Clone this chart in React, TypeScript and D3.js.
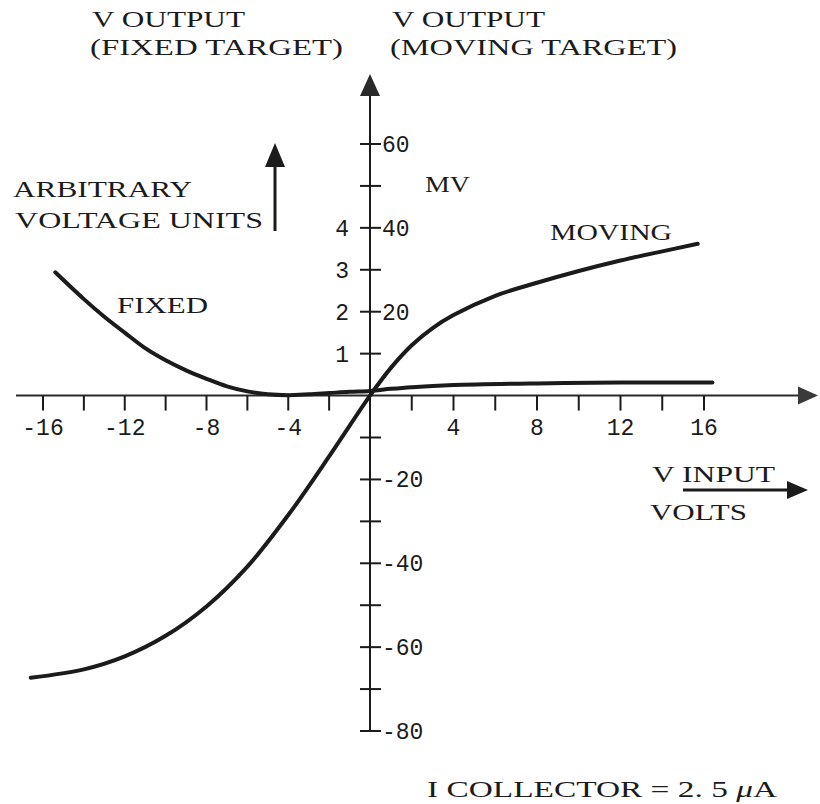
import React from "react";
import * as d3 from "d3";

// Input voltage (V) vs output for the moving target, in millivolts
const movingX = [-16.6, -14, -12, -10, -8, -6, -4, -2, -1, 0, 1, 2, 3, 4, 6, 8, 10, 12, 14, 15.7];
const movingMv = [-67.3, -65.3, -62.2, -57.3, -50.3, -40.8, -28.5, -14.5, -7.2, 0, 6.6, 12.0, 16.1, 19.2, 23.8, 26.9, 29.7, 32.2, 34.4, 36.2];

// Input voltage (V) vs output for the fixed target, in arbitrary voltage units
const fixedX = [-15.4, -14, -13, -12, -11, -10, -9, -8, -7, -6, -5, -4, -3, -2, -1, 0, 1, 2, 4, 8, 12, 16.4];
const fixedUnits = [2.94, 2.3, 1.88, 1.5, 1.13, 0.84, 0.6, 0.4, 0.22, 0.1, 0.03, 0.01, 0.03, 0.06, 0.09, 0.11, 0.16, 0.2, 0.25, 0.29, 0.31, 0.31];

// Axis ticks and labels
const xTicks = [-16, -14, -12, -10, -8, -6, -4, -2, 2, 4, 6, 8, 10, 12, 14, 16];
const xTickLabels = [-16, -12, -8, -4, 4, 8, 12, 16];
const mvTicks = [-80, -70, -60, -50, -40, -30, -20, -10, 10, 20, 30, 40, 50, 60];
const mvTickLabels = [60, 40, 20, -20, -40, -60, -80];
const unitTickLabels = [1, 2, 3, 4];

const INK = "#1b1b1b";
const SERIF = "'Liberation Serif', 'DejaVu Serif', serif";
const MONO = "'Liberation Mono', 'DejaVu Sans Mono', monospace";

export default function App() {
  const x = d3.scaleLinear().domain([-16, 0, 16]).range([43, 370, 704]);
  const y = d3.scaleLinear().domain([-80, 60]).range([731, 144]);
  const yUnits = d3.scaleLinear().domain([0, 4]).range([y(0), y(40)]);

  const x0 = x(0);
  const y0 = y(0);

  const moving = movingX.map((v, i) => [v, movingMv[i]] as [number, number]);
  const fixed = fixedX.map((v, i) => [v, fixedUnits[i]] as [number, number]);

  const movingLine = d3
    .line<[number, number]>()
    .x((d) => x(d[0]))
    .y((d) => y(d[1]))
    .curve(d3.curveCatmullRom.alpha(0.5));
  const fixedLine = d3
    .line<[number, number]>()
    .x((d) => x(d[0]))
    .y((d) => yUnits(d[1]))
    .curve(d3.curveCatmullRom.alpha(0.5));

  const label = (text: string, lx: number, ly: number, len: number, size = 24) => (
    <text
      x={lx}
      y={ly}
      fontFamily={SERIF}
      fontSize={size}
      fill={INK}
      textLength={len}
      lengthAdjust="spacingAndGlyphs"
    >
      {text}
    </text>
  );

  return (
    <svg
      width={820}
      height={804}
      style={{ position: "absolute", left: 0, top: 0, background: "#fff" }}
    >
      {/* headings */}
      {label("V OUTPUT", 92, 27, 153)}
      {label("(FIXED TARGET)", 90, 55, 253)}
      {label("V OUTPUT", 392, 27, 153)}
      {label("(MOVING TARGET)", 390, 55, 287)}
      {label("ARBITRARY", 13, 197, 179)}
      {label("VOLTAGE UNITS", 15, 228, 248)}
      {label("MV", 425, 192, 45)}
      {label("MOVING", 550, 240, 122)}
      {label("FIXED", 117, 313, 91)}
      {label("V INPUT", 652, 482, 123)}
      {label("VOLTS", 650, 520, 97)}
      <text
        x={427}
        y={797}
        fontFamily={SERIF}
        fontSize={24}
        fill={INK}
        textLength={350}
        lengthAdjust="spacingAndGlyphs"
      >
        I COLLECTOR = 2. 5 <tspan fontStyle="italic">μ</tspan>A
      </text>

      {/* arbitrary units arrow */}
      <line x1={275} x2={275} y1={165} y2={231} stroke={INK} strokeWidth={3} />
      <polygon points="275,143 265,167 285,167" fill={INK} />

      {/* V input arrow */}
      <line x1={683} x2={790} y1={490} y2={490} stroke={INK} strokeWidth={3} />
      <polygon points="808,490 787,481 787,499" fill={INK} />

      {/* x axis */}
      <line x1={16} x2={800} y1={y0} y2={y0} stroke="#2a2a2a" strokeWidth={2} />
      <polygon points={`818,${y0} 798,${y0 - 9} 798,${y0 + 9}`} fill="#3a3a3a" />
      {xTicks.map((t) => (
        <line key={t} x1={x(t)} x2={x(t)} y1={y0} y2={y0 + 15} stroke={INK} strokeWidth={2} />
      ))}
      {xTickLabels.map((t) => (
        <text
          key={t}
          x={x(t)}
          y={435}
          textAnchor="middle"
          fontFamily={MONO}
          fontSize={23}
          fill={INK}
        >
          {t < 0 ? `-${Math.abs(t)}` : t}
        </text>
      ))}

      {/* y axis */}
      <line x1={x0} x2={x0} y1={92} y2={y(-80)} stroke={INK} strokeWidth={2} />
      <polygon points={`${x0},74 ${x0 - 10},96 ${x0 + 10},96`} fill="#2a2a2a" />
      {mvTicks.map((t) => (
        <line key={t} x1={x0 - 10} x2={x0 + 11} y1={y(t)} y2={y(t)} stroke={INK} strokeWidth={2} />
      ))}
      {mvTickLabels.map((t) => (
        <text key={t} x={x0 + 12} y={y(t) + 8} fontFamily={MONO} fontSize={23} fill={INK}>
          {t}
        </text>
      ))}
      {unitTickLabels.map((t) => (
        <text
          key={t}
          x={349}
          y={yUnits(t) + 8}
          textAnchor="end"
          fontFamily={MONO}
          fontSize={23}
          fill={INK}
        >
          {t}
        </text>
      ))}

      {/* curves */}
      <path d={fixedLine(fixed) ?? ""} fill="none" stroke={INK} strokeWidth={4} strokeLinecap="round" />
      <path d={movingLine(moving) ?? ""} fill="none" stroke={INK} strokeWidth={4} strokeLinecap="round" />
    </svg>
  );
}
